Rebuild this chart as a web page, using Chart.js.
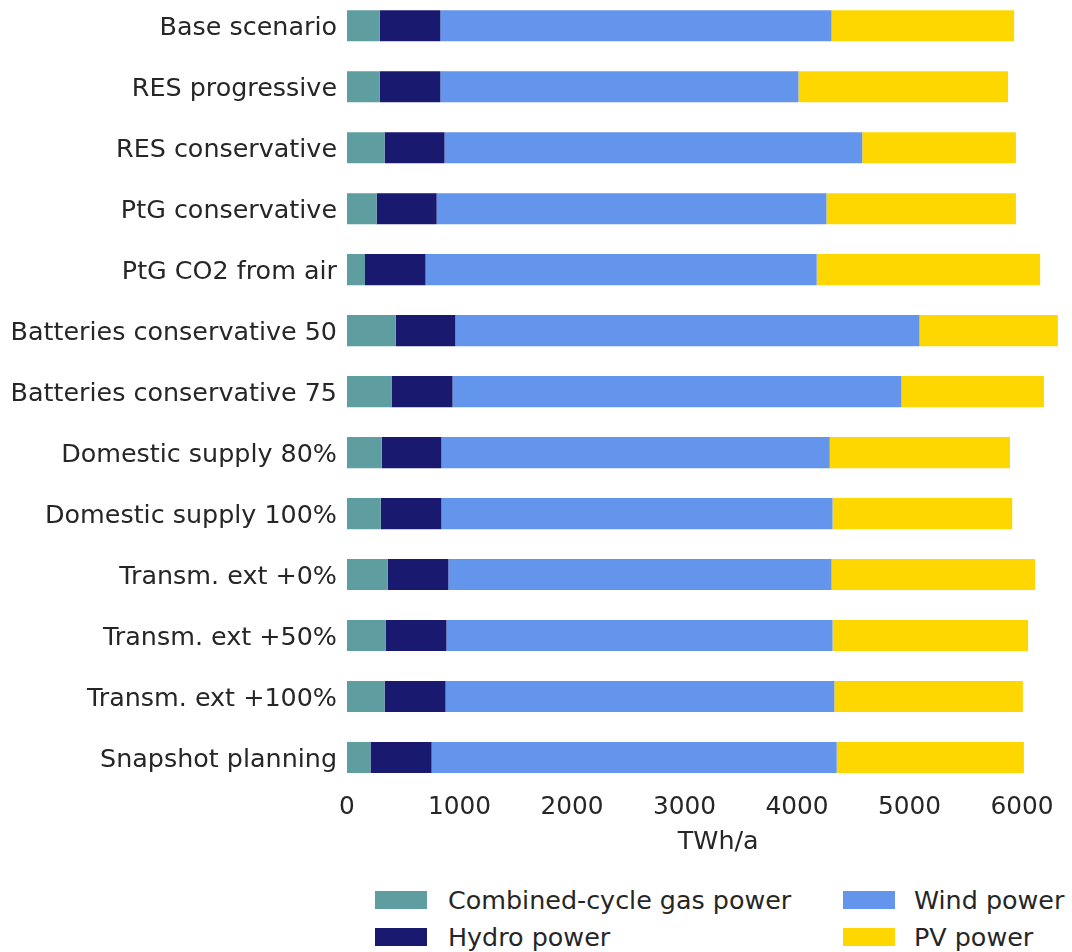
<!DOCTYPE html>
<html>
<head>
<meta charset="utf-8">
<script src="https://cdn.jsdelivr.net/npm/chart.js@4/dist/chart.umd.min.js"></script>
<style>
  html, body { margin: 0; padding: 0; background: #fff; overflow: hidden; width: 1072px; height: 952px; }
  #wrap { position: absolute; left: 0; top: -30px; }
  .legend-item { position: absolute; font-family: "DejaVu Sans", sans-serif; font-size: 25.4px; color: #262626; height: 30px; line-height: 30px; white-space: nowrap; }
  .swatch { position: absolute; width: 52px; height: 18px; }
</style>
</head>
<body>
<div id="wrap"><canvas id="chart" width="1095" height="888"></canvas></div>
<div id="legend"></div>
<script>
const scenarios = [
  'Base scenario', 'RES progressive', 'RES conservative', 'PtG conservative',
  'PtG CO2 from air', 'Batteries conservative 50', 'Batteries conservative 75',
  'Domestic supply 80%', 'Domestic supply 100%', 'Transm. ext +0%',
  'Transm. ext +50%', 'Transm. ext +100%', 'Snapshot planning'
];
const gasPower   = [292, 292, 334, 263, 160, 433, 396, 309, 300, 363, 346, 334, 209];
const hydroPower = [538, 538, 533, 534, 538, 530, 542, 530, 539, 538, 538, 542, 543];
const windPower  = [3477, 3183, 3713, 3465, 3477, 4126, 3990, 3452, 3477, 3406, 3432, 3456, 3601];
const pvPower    = [1623, 1863, 1366, 1684, 1986, 1230, 1267, 1602, 1597, 1809, 1738, 1676, 1664];
const xTicks = [0, 1000, 2000, 3000, 4000, 5000, 6000];

const seriesNames = ['Combined-cycle gas power', 'Hydro power', 'Wind power', 'PV power'];
const seriesColors = ['#5F9EA0', '#191970', '#6495ED', '#FFD700'];
const seriesData = [gasPower, hydroPower, windPower, pvPower];

const textColor = '#262626';
const font = 'DejaVu Sans';

const datasets = seriesNames.map((name, i) => ({
  label: name,
  data: seriesData[i],
  backgroundColor: seriesColors[i],
  borderWidth: 0,
  barPercentage: 0.51,
  categoryPercentage: 1,
}));

new Chart(document.getElementById('chart'), {
  type: 'bar',
  data: { labels: scenarios, datasets },
  options: {
    indexAxis: 'y',
    responsive: false,
    animation: false,
    devicePixelRatio: 1,
    layout: { padding: { left: 0, right: 5.5, top: 0, bottom: 0 } },
    plugins: { legend: { display: false }, tooltip: { enabled: false } },
    scales: {
      x: {
        stacked: true,
        min: 0,
        max: 6600,
        afterBuildTicks: (scale) => { scale.ticks = xTicks.map(v => ({ value: v })); },
        afterFit: (scale) => { scale.height = 70; },
        grid: { display: false, drawTicks: false },
        border: { display: false },
        ticks: { color: textColor, font: { family: font, size: 24.8 }, padding: 5, maxRotation: 0, callback: v => String(v) },
        title: { display: true, text: 'TWh/a', color: textColor, font: { family: font, size: 25.4 }, padding: { top: 1, bottom: 0 } },
      },
      y: {
        stacked: true,
        afterFit: (scale) => { scale.width = 347; },
        grid: { display: false, drawTicks: false },
        border: { display: false },
        ticks: { color: textColor, font: { family: font, size: 25.4 }, padding: 10, autoSkip: false, labelOffset: 3 },
      },
    },
  },
});

// legend in two columns, matching the reference layout
const legendSlots = [
  { sx: 375, tx: 448, cy: 900 },
  { sx: 375, tx: 448, cy: 937 },
  { sx: 843, tx: 914, cy: 900 },
  { sx: 843, tx: 914, cy: 937 },
];
const legendEl = document.getElementById('legend');
seriesNames.forEach((name, i) => {
  const s = legendSlots[i];
  const sw = document.createElement('div');
  sw.className = 'swatch';
  sw.style.left = s.sx + 'px';
  sw.style.top = (s.cy - 9) + 'px';
  sw.style.background = seriesColors[i];
  legendEl.appendChild(sw);
  const t = document.createElement('div');
  t.className = 'legend-item';
  t.style.left = s.tx + 'px';
  t.style.top = (s.cy - 15) + 'px';
  t.textContent = name;
  legendEl.appendChild(t);
});
</script>
</body>
</html>
